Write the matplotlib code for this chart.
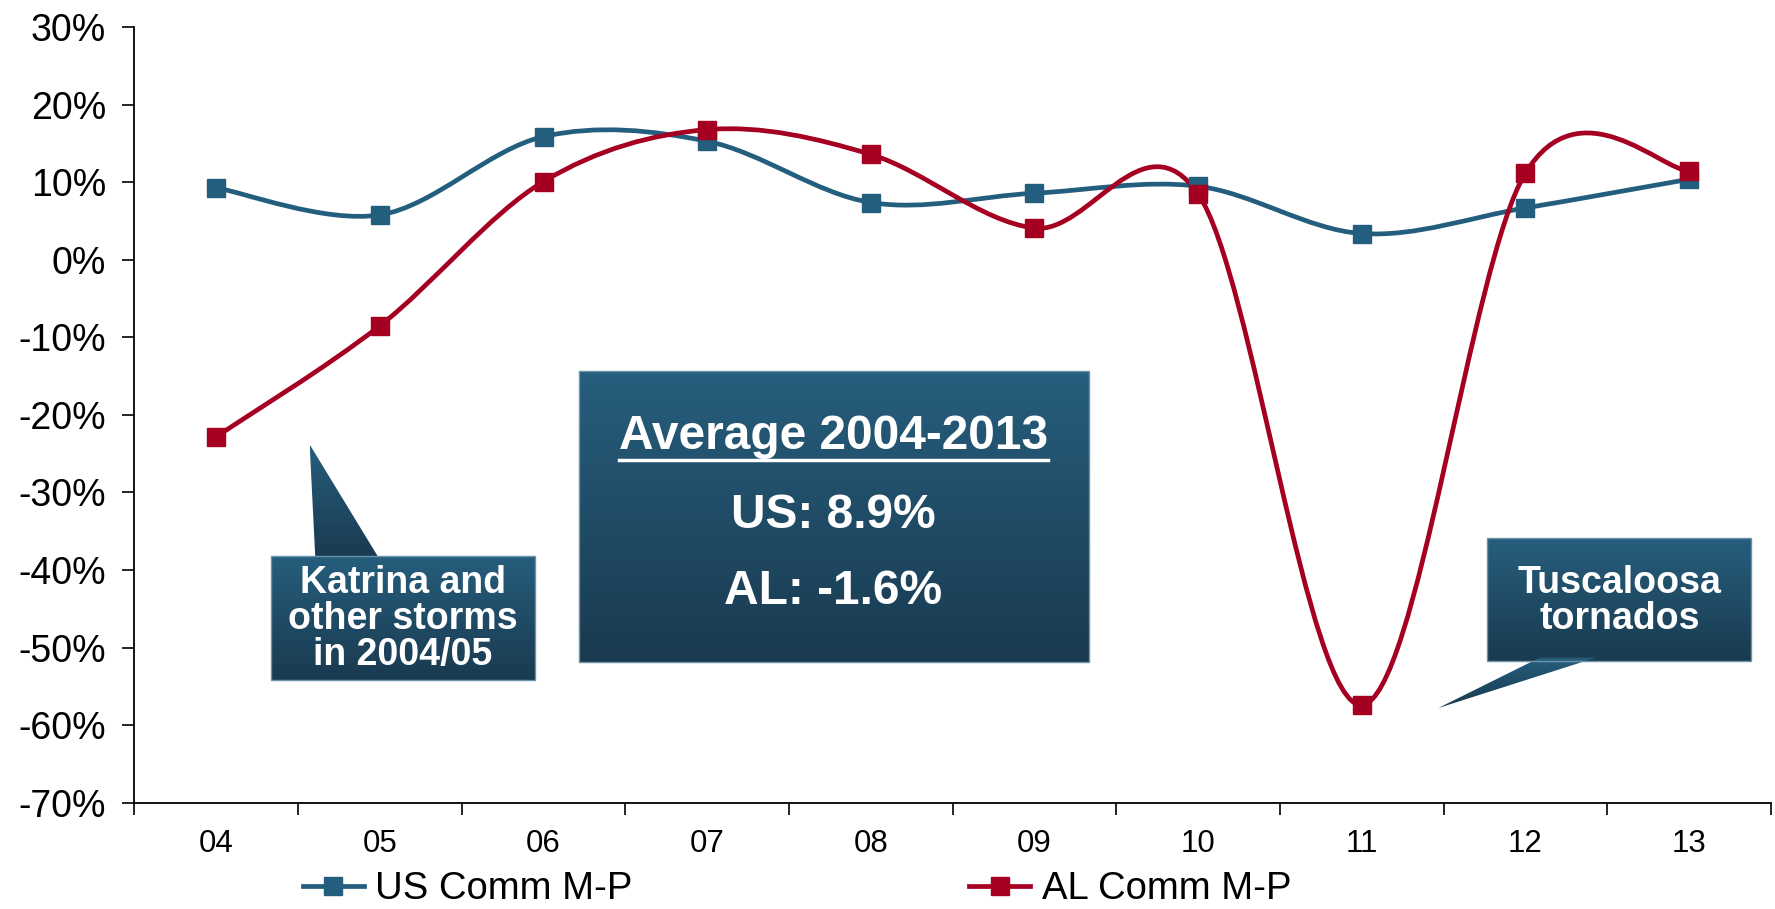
import numpy as np
import matplotlib
matplotlib.use("Agg")
import matplotlib.pyplot as plt
from matplotlib.path import Path
from matplotlib.patches import PathPatch, Polygon
from matplotlib.lines import Line2D
from matplotlib.colors import LinearSegmentedColormap

plt.rcParams['font.family'] = ['Liberation Sans', 'DejaVu Sans']
plt.rcParams['axes.unicode_minus'] = False

# data (percent)
years = ["04", "05", "06", "07", "08", "09", "10", "11", "12", "13"]
us_comm = [9.3, 5.8, 15.9, 15.3, 7.4, 8.6, 9.5, 3.4, 6.7, 10.4]
al_comm = [-22.8, -8.5, 10.1, 16.8, 13.6, 4.1, 8.5, -57.4, 11.2, 11.5]
y_ticks = [30, 20, 10, 0, -10, -20, -30, -40, -50, -60, -70]

US_COL = "#245E7E"
AL_COL = "#A50021"
BOX_TOP = "#265E7D"
BOX_BOT = "#1A3A50"


def smooth_path(xs, ys, k=1/6):
    # excel-like smoothed line: cubic bezier through every point
    pts = np.column_stack([xs, ys]).astype(float)
    n = len(pts)
    verts = [pts[0]]
    codes = [Path.MOVETO]
    for i in range(n - 1):
        p0 = pts[max(i - 1, 0)]
        p1 = pts[i]
        p2 = pts[i + 1]
        p3 = pts[min(i + 2, n - 1)]
        verts += [p1 + (p2 - p0) * k, p2 - (p3 - p1) * k, p2]
        codes += [Path.CURVE4] * 3
    return Path(verts, codes)


def gradient_poly(ax, verts, edge=True):
    verts = np.array(verts)
    poly = Polygon(verts, closed=True, facecolor="none",
                   edgecolor="#6d93aa" if edge else "none", lw=1, zorder=6)
    ax.add_patch(poly)
    cmap = LinearSegmentedColormap.from_list("g", [BOX_TOP, BOX_BOT])
    grad = np.linspace(0, 1, 256).reshape(-1, 1)
    im = ax.imshow(grad, cmap=cmap, aspect="auto", origin="upper",
                   extent=[verts[:, 0].min(), verts[:, 0].max(),
                           verts[:, 1].min(), verts[:, 1].max()],
                   zorder=5, interpolation="bilinear")
    im.set_clip_path(poly)
    return poly


fig = plt.figure(figsize=(17.75, 9.09), dpi=100)
ax = fig.add_axes([0.0757, 0.117, 0.922, 0.853])

x = np.arange(len(years))

for vals, col in [(us_comm, US_COL), (al_comm, AL_COL)]:
    ax.add_patch(PathPatch(smooth_path(x, vals), facecolor="none", edgecolor=col,
                           lw=3.4, capstyle="round", joinstyle="round", zorder=3))
    ax.plot(x, vals, ls="none", marker="s", ms=13, color=col, zorder=4)

# callouts
gradient_poly(ax, [(0.571, -23.8), (0.606, -38.6), (0.998, -38.6)], edge=False)
gradient_poly(ax, [(0.337, -38.2), (1.948, -38.2), (1.948, -54.2), (0.337, -54.2)])
gradient_poly(ax, [(2.216, -14.3), (5.334, -14.3), (5.334, -51.8), (2.216, -51.8)])
gradient_poly(ax, [(7.763, -35.9), (9.381, -35.9), (9.381, -51.7), (7.763, -51.7)])
gradient_poly(ax, [(8.087, -51.3), (8.431, -51.3), (7.467, -57.8)], edge=False)

txt_kw = dict(color="white", fontweight="bold", ha="center", va="center", zorder=7)
ax.text(1.14, -46.3, "Katrina and\nother storms\nin 2004/05", fontsize=27,
        linespacing=1.0, **txt_kw)
ax.text(8.575, -44.0, "Tuscaloosa\ntornados", fontsize=27, linespacing=1.0, **txt_kw)
title = ax.text(3.77, -22.8, "Average 2004-2013", fontsize=34.5, **txt_kw)
ax.text(3.77, -33.0, "US: 8.9%", fontsize=34.5, **txt_kw)
ax.text(3.77, -42.8, "AL: -1.6%", fontsize=34.5, **txt_kw)

ax.set_xlim(-0.5, 9.5)
ax.set_ylim(-70, 30)
ax.set_yticks(y_ticks)
ax.set_yticklabels([f"{v}%" for v in y_ticks])
ax.set_xticks(x)
ax.set_xticklabels(years)
ax.set_xticks(np.arange(-0.5, 10, 1), minor=True)
ax.tick_params(axis="x", which="major", length=0, labelsize=22.5, pad=19)
ax.tick_params(axis="x", which="minor", length=8.5, width=1.2, direction="out")
ax.tick_params(axis="y", length=8.5, width=1.2, labelsize=27, pad=12)
for s in ["top", "right"]:
    ax.spines[s].set_visible(False)
for s in ["left", "bottom"]:
    ax.spines[s].set_linewidth(1.3)

# underline for the box title
fig.canvas.draw()
bb = title.get_window_extent().transformed(ax.transData.inverted())
ax.plot([bb.x0, bb.x1], [bb.y0 - 0.1, bb.y0 - 0.1], color="white", lw=2.5, zorder=7)

handles = [Line2D([], [], color=US_COL, lw=3.4, marker="s", ms=13),
           Line2D([], [], color=AL_COL, lw=3.4, marker="s", ms=13)]
fig.legend(handles, ["US Comm M-P", "AL Comm M-P"], loc="center",
           bbox_to_anchor=(0.449, 0.022), ncol=2, frameon=False, fontsize=27.5,
           handlelength=1.6, columnspacing=8.8, handletextpad=0.3)

fig.savefig("out.png", dpi=100)
